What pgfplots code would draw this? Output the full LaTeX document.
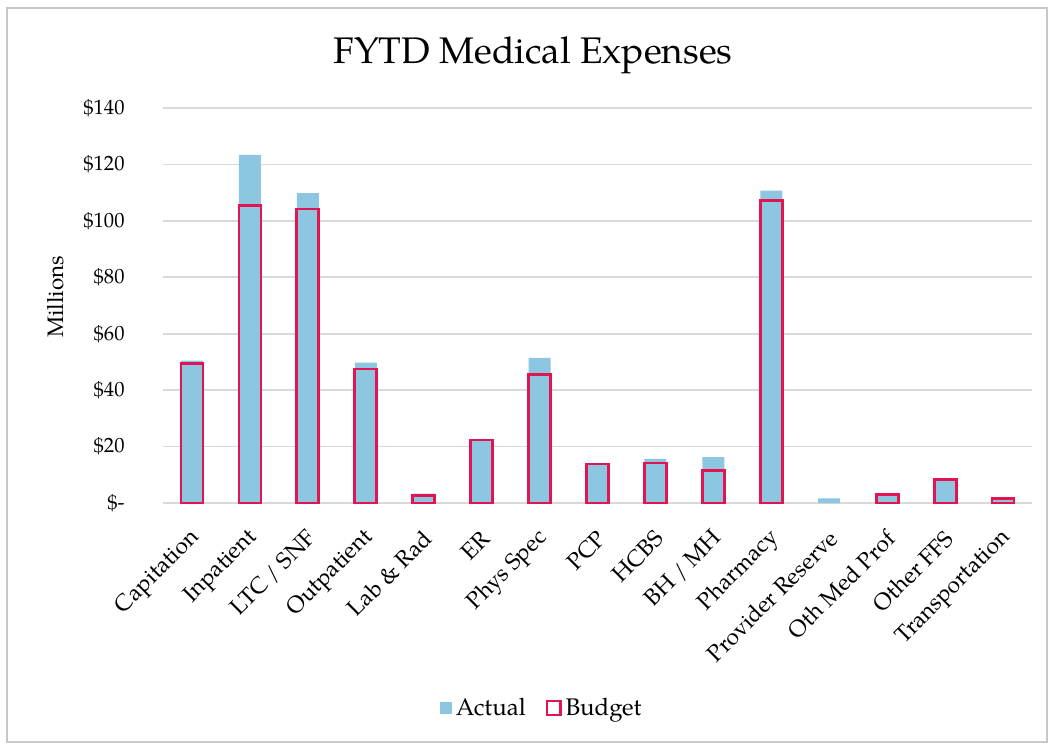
\documentclass[border=0pt]{standalone}
\usepackage{fontspec}
\setmainfont{TeX Gyre Pagella}
\usepackage{pgfplots}
\usepackage{pgfplotstable}
\pgfplotsset{compat=1.18}

\definecolor{actualblue}{RGB}{140,198,224}
\definecolor{budgetred}{RGB}{226,20,82}
\definecolor{gridgray}{RGB}{217,217,217}
\definecolor{framegray}{RGB}{200,200,200}

% FYTD medical expenses, millions of dollars
\pgfplotstableread{
idx actual budget
0   50.5   49.5
1   123.4  105.5
2   109.8  104.2
3   49.8   47.5
4   3.3    2.6
5   22.5   22.3
6   51.4   45.5
7   14.0   13.8
8   15.6   14.2
9   16.3   11.4
10  110.7  107.2
11  1.6    nan
12  3.2    3.1
13  8.2    8.2
14  1.8    1.7
}\expenses

\begin{document}
\begin{tikzpicture}
\begin{scope}[x=0.5pt,y=-0.5pt]
\path[use as bounding box] (0,0) rectangle (1051,745);
\draw[framegray, line width=0.8pt] (7,8) rectangle (1047,742);
\node[font=\fontsize{18.5}{22}\selectfont] at (533,55) {FYTD Medical Expenses};
\coordinate (plotorigin) at (163,503);
\end{scope}
\begin{axis}[
  at={(plotorigin)}, anchor=south west,
  scale only axis, width=434.5pt, height=197.5pt,
  xmin=-0.5, xmax=14.5, ymin=0, ymax=140,
  ybar=0pt, bar width=11pt, bar shift=0pt,
  axis line style={draw=none},
  major tick length=0pt,
  ymajorgrids, grid style={gridgray, line width=0.8pt},
  ytick={0,20,...,140},
  yticklabels={\$-,\$20,\$40,\$60,\$80,\$100,\$120,\$140},
  yticklabel style={font=\fontsize{10.3}{12}\selectfont, inner sep=0pt, anchor=east, xshift=-19pt},
  xtick={0,...,14},
  xticklabels={Capitation,Inpatient,LTC / SNF,Outpatient,Lab \& Rad,ER,Phys Spec,PCP,HCBS,BH / MH,Pharmacy,Provider Reserve,Oth Med Prof,Other FFS,Transportation},
  xticklabel style={font=\fontsize{11.5}{13}\selectfont, xshift=3pt, yshift=-15pt, rotate=45, anchor=east, inner sep=1pt},
  ylabel={Millions},
  every axis y label/.style={at={(axis description cs:-0.124,0.522)}, rotate=90, anchor=center,
    font=\fontsize{11.2}{13}\selectfont},
  legend style={at={(0.437,-0.519)}, anchor=center, draw=none, fill=none,
    legend columns=2, font=\fontsize{12}{14}\selectfont,
    /tikz/every even column/.append style={column sep=8pt}},
  legend cell align=left,
]
\addplot[draw=none, fill=actualblue,
  legend image code/.code={\fill[actualblue] (0pt,-3pt) rectangle (6pt,3pt);}]
  table[x=idx, y=actual] {\expenses};
\addlegendentry{Actual}
\addplot[draw=budgetred, line width=1.4pt, fill=none,
  legend image code/.code={\draw[budgetred, line width=1.1pt] (0pt,-3.4pt) rectangle (6.8pt,3.4pt);}]
  table[x=idx, y=budget] {\expenses};
\addlegendentry{Budget}
\end{axis}
\end{tikzpicture}
\end{document}
